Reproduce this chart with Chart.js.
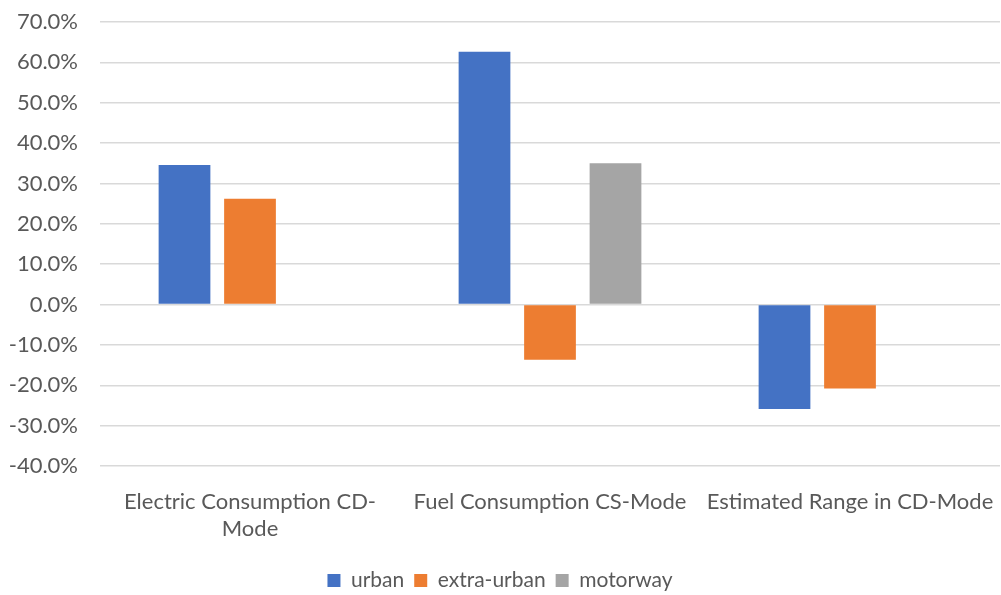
<!DOCTYPE html>
<html>
<head>
<meta charset="utf-8">
<script src="https://cdn.jsdelivr.net/npm/chart.js@4"></script>
<style>
	html, body { margin: 0; padding: 0; background: #fff; }
	#wrap { width: 1001px; height: 595px; }
</style>
</head>
<body>
<div id="wrap"><canvas id="myChart" width="1001" height="595"></canvas></div>
<script>
// категории и значения (в процентах)
const categories = [["Electric Consumption CD-", "Mode"], "Fuel Consumption CS-Mode", "Estimated Range in CD-Mode"];
const urban = [34.6, 62.6, -25.9];
const extraUrban = [26.2, -13.7, -20.8];
const motorway = [null, 35.0, null];
const yTicks = [-40, -30, -20, -10, 0, 10, 20, 30, 40, 50, 60, 70];

const font = "Lato, 'Liberation Sans', sans-serif";
const textColor = "#595959";

const ctx = document.getElementById("myChart");

new Chart(ctx, {
	type: "bar",
	data: {
		labels: categories,
		datasets: [
			{ label: "urban", data: urban, backgroundColor: "#4472C4" },
			{ label: "extra-urban", data: extraUrban, backgroundColor: "#ED7D31" },
			{ label: "motorway", data: motorway, backgroundColor: "#A5A5A5" },
		],
	},
	options: {
		responsive: false,
		animation: false,
		layout: { padding: { left: 0, right: 1, top: 22, bottom: -6 } },
		datasets: {
			bar: { categoryPercentage: 0.655, barPercentage: 0.79 },
		},
		plugins: {
			legend: {
				position: "bottom",
				labels: {
					font: { family: font, size: 21 },
					color: textColor,
					boxWidth: 13,
					boxHeight: 13,
					padding: 10,
				},
			},
			tooltip: { enabled: false },
		},
		scales: {
			x: {
				grid: { display: false, drawTicks: false },
				border: { display: false },
				ticks: {
					font: { family: font, size: 22, lineHeight: 1.25 },
					color: textColor,
					padding: 22,
					maxRotation: 0,
					autoSkip: false,
				},
				afterFit: (scale) => {
					scale.height = 94;
					scale.paddingLeft = 0;
					scale.paddingRight = 0;
				},
			},
			y: {
				min: -40,
				max: 70,
				afterBuildTicks: (scale) => { scale.ticks = yTicks.map((v) => ({ value: v })); },
				grid: { color: "#D9D9D9", lineWidth: 1.5, drawTicks: false },
				border: { display: false },
				ticks: {
					font: { family: font, size: 22 },
					color: textColor,
					padding: 22,
					callback: (v) => v.toFixed(1) + "%",
				},
				afterFit: (scale) => {
					scale.width = 100;
					scale.paddingTop = 0;
					scale.paddingBottom = 0;
				},
			},
		},
	},
});
</script>
</body>
</html>
